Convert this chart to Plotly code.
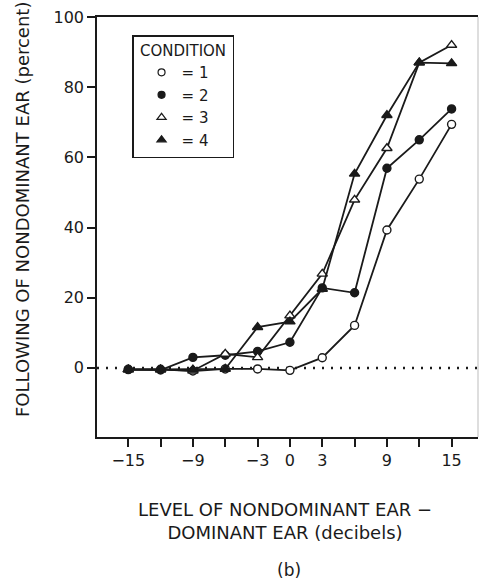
import plotly.graph_objects as go

# Interaural level difference (dB) and percent following of the nondominant ear
level_db = [-15, -12, -9, -6, -3, 0, 3, 6, 9, 12, 15]
cond1 = [-0.4, -0.4, -0.9, -0.3, -0.3, -0.7, 2.9, 12.1, 39.3, 53.8, 69.4]
cond2 = [-0.5, -0.6, 3.0, 3.6, 4.7, 7.3, 22.8, 21.4, 56.9, 65.0, 73.8]
cond3 = [-0.5, -0.5, -0.8, 4.0, 3.0, 14.9, 26.8, 47.9, 62.6, 87.0, 92.0]
cond4 = [-0.5, -0.5, -0.5, -0.3, 11.6, 13.2, 22.5, 55.3, 72.0, 87.0, 86.8]

x_tickvals = [-15, -12, -9, -6, -3, 0, 3, 6, 9, 12, 15]
x_ticktext = ["\u221215", "", "\u22129", "", "\u22123", "0", "3", "", "9", "", "15"]
y_tickvals = [0, 20, 40, 60, 80, 100]

FONT = "DejaVu Sans"
INK = "#1a1a1a"
PAD = "\u00a0" * 4  # keeps the legend box wide enough to centre its title

series = [
    ("= 1", cond1, "circle", "white"),
    ("= 2", cond2, "circle", INK),
    ("= 3", cond3, "triangle-up", "white"),
    ("= 4", cond4, "triangle-up", INK),
]

fig = go.Figure()

# Curves without legend entries
for name, vals, sym, fill in series:
    fig.add_trace(go.Scatter(
        x=level_db, y=vals, mode="lines+markers",
        line=dict(color=INK, width=1.8),
        marker=dict(symbol=sym, size=8 if sym == "circle" else 9,
                    color=fill, line=dict(color=INK, width=1.4)),
        showlegend=False, cliponaxis=False,
    ))

# Marker-only legend keys
for name, vals, sym, fill in series:
    fig.add_trace(go.Scatter(
        x=[None], y=[None], mode="markers", name=name + PAD,
        marker=dict(symbol=sym, size=7 if sym == "circle" else 8,
                    color=fill, line=dict(color=INK, width=1.2)),
    ))

fig.update_layout(
    width=483, height=579,
    margin=dict(l=97, r=5, t=17, b=142),
    paper_bgcolor="white", plot_bgcolor="white",
    font=dict(family=FONT, size=16, color=INK),
    xaxis=dict(
        range=[-17.9, 17.45], tickvals=x_tickvals, ticktext=x_ticktext,
        ticks="outside", ticklen=8, tickwidth=1.5, tickcolor=INK,
        showline=True, linewidth=1.6, linecolor=INK, mirror=True,
        showgrid=False, zeroline=False, tickfont=dict(size=16),
    ),
    yaxis=dict(
        range=[-19.7, 100], tickvals=y_tickvals,
        ticks="outside", ticklen=8, tickwidth=1.5, tickcolor=INK,
        showline=True, linewidth=1.6, linecolor=INK, mirror=False,
        showgrid=False, zeroline=False, tickfont=dict(size=16),
    ),
    legend=dict(
        x=0.092, y=0.957, xanchor="left", yanchor="top",
        bordercolor=INK, borderwidth=1.5, bgcolor="white",
        title=dict(text="CONDITION", side="top center", font=dict(size=15)),
        font=dict(size=15), itemwidth=30, tracegroupgap=0,
        indentation=8,
    ),
    shapes=[
        # dotted reference line at zero
        dict(type="line", xref="paper", x0=0, x1=1, yref="y", y0=0, y1=0,
             line=dict(color=INK, width=2.5, dash="2px,7px"), layer="below"),
        # faint right frame
        dict(type="line", xref="paper", x0=1, x1=1, yref="paper", y0=0, y1=1,
             line=dict(color="#c8c8c8", width=1.2)),
    ],
    annotations=[
        dict(text="FOLLOWING OF NONDOMINANT EAR (percent)", textangle=-90,
             xref="paper", yref="paper", x=(22 - 97) / 381, y=(437 - 210) / 420,
             xanchor="center", yanchor="middle",
             showarrow=False, font=dict(size=18)),
        dict(text="LEVEL OF NONDOMINANT EAR \u2212<br>DOMINANT EAR (decibels)",
             xref="paper", yref="paper", x=(285 - 97) / 381, y=-(521 - 437) / 420,
             xanchor="center", yanchor="middle",
             showarrow=False, font=dict(size=18), align="center"),
        dict(text="(b)", xref="paper", yref="paper", x=(289 - 97) / 381,
             y=-(570 - 437) / 420, xanchor="center", yanchor="middle",
             showarrow=False, font=dict(size=17)),
    ],
)

fig.write_html("out.html")
